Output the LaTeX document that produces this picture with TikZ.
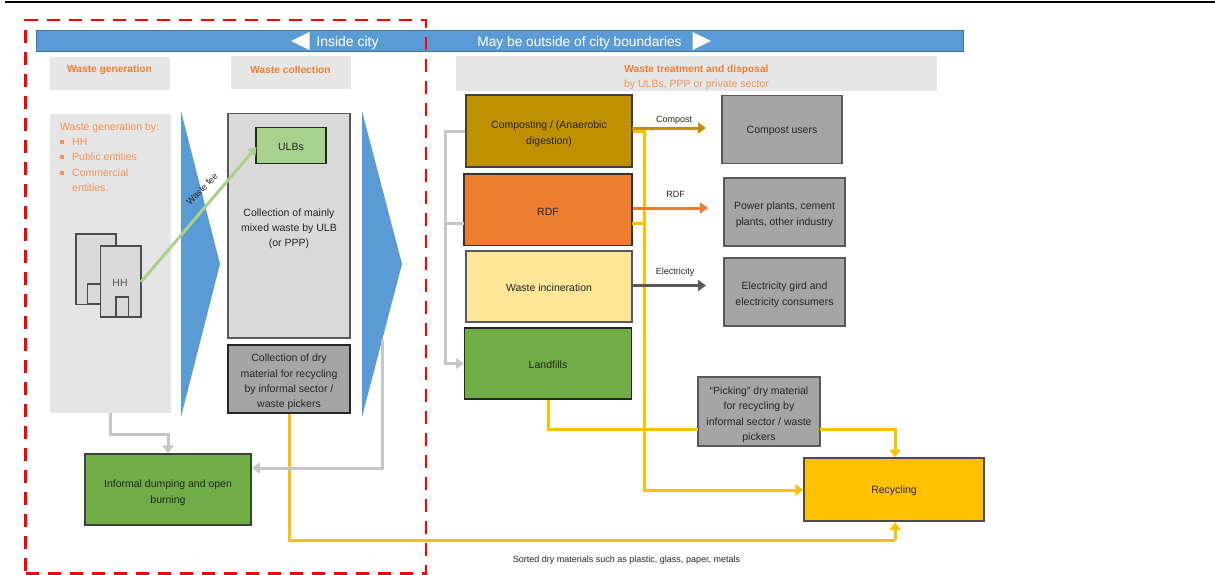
\documentclass[tikz,border=0pt]{standalone}
\usepackage{fontspec}
\setmainfont{Liberation Sans}
\usetikzlibrary{arrows.meta}
\definecolor{bannerblue}{HTML}{5B9BD5}
\definecolor{bannerline}{HTML}{41719C}
\definecolor{hdrgrey}{HTML}{E7E6E6}
\definecolor{panelgrey}{HTML}{E5E5E5}
\definecolor{lightgrey}{HTML}{D9D9D9}
\definecolor{midgrey}{HTML}{A5A5A5}
\definecolor{wasteorange}{HTML}{ED7D31}
\definecolor{softorange}{HTML}{F0935A}
\definecolor{compbrown}{HTML}{BF9000}
\definecolor{paleyellow}{HTML}{FFE699}
\definecolor{leaf}{HTML}{70AD47}
\definecolor{softleaf}{HTML}{A9D18E}
\definecolor{gold}{HTML}{FFC000}
\definecolor{linegrey}{HTML}{C6C6C6}
\definecolor{darkline}{HTML}{595959}
\definecolor{txt}{HTML}{262626}
\newcommand{\uppad}{\rule{0pt}{13pt}}
\newcommand{\uponce}{\rule{0pt}{10.5pt}}
\tikzset{
  x=1pt,y=-1pt,
  txtsize/.style={font=\fontsize{10.5}{15.3}\selectfont},
  boxed/.style={draw=#1,line width=1.3pt,inner sep=1pt,align=center,text=txt,txtsize},
  boxed/.default={black!75},
  hdr/.style={fill=hdrgrey,draw=none,inner sep=0pt,align=center},
  hdrtext/.style={text=wasteorange,font=\fontsize{10.2}{15.3}\selectfont\bfseries,inner sep=0pt},
  flowtext/.style={text=txt,txtsize,inner sep=0pt},
  prodlabel/.style={text=txt,font=\fontsize{9}{12}\selectfont,inner sep=0pt},
  conn/.style={line width=3pt,#1,-{Triangle[length=8pt,width=11pt]}},
  plain/.style={line width=3pt,#1},
  bldg/.style={draw=black!70,line width=1.4pt,fill=lightgrey,inner sep=0pt},
  sz/.style 2 args={minimum width=#1,minimum height=#2},
}
\begin{document}
\begin{tikzpicture}
\useasboundingbox (0,0) rectangle (1215,574);
\coordinate (ruleL) at (5,2);
\coordinate (ruleR) at (1215,2);
\draw[line width=2pt,black] (ruleL) -- (ruleR);

% banner
\node[fill=bannerblue,draw=bannerline,line width=1pt,inner sep=0pt,sz={927pt}{21pt}] (banner) at (499.5,41) {};
\fill[white] (291,41) -- (309.5,32) -- (309.5,50) -- cycle;
\fill[white] (711,41) -- (692.5,32) -- (692.5,50) -- cycle;
\node[text=white,font=\fontsize{14}{16}\selectfont,inner sep=0pt] (inside) at (347.5,42.5) {Inside city};
\node[text=white,font=\fontsize{13.7}{16}\selectfont,inner sep=0pt] (outside) at (579.5,42.5) {May be outside of city boundaries};

% headers
\node[hdr,sz={120pt}{33pt}] (h1) at (110,73.5) {};
\node[hdrtext] (h1t) at (109.5,70) {Waste generation};
\node[hdr,sz={120pt}{33pt}] (h2) at (291,72.5) {};
\node[hdrtext] (h2t) at (290.5,69.5) {Waste collection};
\node[hdr,sz={481pt}{35pt}] (h3) at (696.5,73.5) {};
\node[hdrtext] (h3t) at (696.5,70) {Waste treatment and disposal};
\node[text=softorange,txtsize,inner sep=0pt] (h3s) at (696.5,85) {by ULBs, PPP or private sector};

% panel
\node[fill=panelgrey,draw=none,inner sep=0pt,sz={121pt}{299pt}] (panel) at (110.5,263.5) {};
\newcommand{\blt}{\makebox[12pt][l]{\rule[1.5pt]{4pt}{4pt}}}
\node[text=softorange,txtsize,inner sep=0pt,align=left,anchor=north west] (paneltext) at (60,122.5)
 {\hspace*{0pt}Waste generation by:\\ \blt HH\\ \blt Public entities\\ \blt Commercial\\ \hspace*{12pt}entities.};

% triangles
\fill[bannerblue] (181,111) -- (220,264) -- (181,417) -- cycle;
\fill[bannerblue] (362,111) -- (402,264) -- (362,417) -- cycle;

% collection
\node[boxed={darkline},fill=lightgrey,sz={122pt}{224.5pt}] (coll) at (289,225.75) {};
\node[flowtext,align=center] (colltext) at (289,228.7) {Collection of mainly\\mixed waste by ULB\\(or PPP)};
\node[boxed={black!85},fill=softleaf,sz={70pt}{36pt}] (ulbs) at (291,145.5) {\uponce ULBs};
\node[boxed={black!85},fill=midgrey,sz={122pt}{68pt}] (dry) at (289,379) {\rule{0pt}{14pt}Collection of dry\\material for recycling\\by informal sector /\\waste pickers};

% buildings
\node[bldg,sz={40pt}{70.5pt}] (b1) at (96,269.25) {};
\node[bldg,sz={12.5pt}{20pt}] (b1d) at (94,294) {};
\node[bldg,sz={40.5pt}{71pt}] (hh) at (120.75,281.5) {};
\node[bldg,sz={12.5pt}{19.5pt}] (hhd) at (122.25,306.75) {};
\node[text=darkline,txtsize,inner sep=0pt] (hhl) at (120,283) {HH};

% treatment
\node[boxed={black!75},fill=compbrown,sz={166pt}{72pt}] (comp) at (549,131) {\uppad Composting / (Anaerobic\\digestion)};
\node[boxed={black!80},fill=wasteorange,sz={168pt}{71.5pt}] (rdf) at (548,209.75) {\uponce RDF};
\node[boxed={black!65},fill=paleyellow,sz={166pt}{71pt}] (inc) at (549,286.5) {\uponce Waste incineration};
\node[boxed={black!85},fill=leaf,sz={167pt}{71pt}] (land) at (548,363.5) {\uponce Landfills};

\node[boxed={darkline},fill=midgrey,sz={120pt}{68pt}] (cu) at (782,129.5) {\uponce Compost users};
\node[boxed={darkline},fill=midgrey,sz={121pt}{68pt}] (pp) at (784.5,212) {\uppad Power plants, cement\\plants, other industry};
\node[boxed={darkline},fill=midgrey,sz={121pt}{68pt}] (el) at (784.5,292) {\uppad Electricity gird and\\electricity consumers};
\node[boxed={darkline},fill=midgrey,sz={122pt}{69pt}] (pick) at (759,411.5) {\rule{0pt}{14pt}“Picking” dry material\\for recycling by\\informal sector / waste\\pickers};
\node[boxed={black!70},fill=gold,sz={180pt}{63pt}] (rec) at (894,489.5) {\uponce Recycling};
\node[boxed={black!75},fill=leaf,sz={166pt}{71pt}] (dump) at (168,489.5) {\rule{0pt}{14pt}Informal dumping and open\\burning};

% junction coordinates
\coordinate (panelOut) at (110,413);
\coordinate (pJ1) at (110,434);
\coordinate (pJ2) at (168,434);
\coordinate (triOut) at (382,340);
\coordinate (tJ) at (382,468);
\coordinate (dumpIn) at (252,468);
\coordinate (dryJ) at (289,540);
\coordinate (recJ) at (895,540);
\coordinate (recIn) at (895,522);
\coordinate (gJ) at (445,131);
\coordinate (gJ2) at (445,223);
\coordinate (gJ3) at (445,363.5);
\coordinate (rdfL) at (464,223);
\coordinate (yJ1) at (644,131);
\coordinate (yJ2) at (644,223);
\coordinate (rdfR) at (632,223);
\coordinate (yJ3) at (644,490);
\coordinate (lJ1) at (548,429);
\coordinate (pickL) at (698,429);
\coordinate (pickR) at (820,429);
\coordinate (pJ3) at (895,429);
\coordinate (recTop) at (895,457.5);
\coordinate (compS) at (632,128);
\coordinate (compE) at (706,128);
\coordinate (rdfS) at (633,208);
\coordinate (rdfE) at (708,208);
\coordinate (incS) at (632,285.5);
\coordinate (incE) at (706,285.5);
\coordinate (hhOut) at (141,282);
\coordinate (ulbIn) at (256.5,147);

% yellow connectors
\draw[plain=gold] (dry.south) -- (dryJ) -- (recJ);
\draw[conn=gold] (recJ) -- (recIn);
\draw[conn=gold] (comp.east) -- (yJ1) -- (yJ3) -- (rec.west |- yJ3);
\draw[plain=gold] (rdfR) -- (yJ2);
\draw[plain=gold] (land.south) -- (lJ1) -- (pickL);
\draw[conn=gold] (pickR) -- (pJ3) -- (recTop);

% grey connectors
\draw[conn=linegrey] (panelOut) -- (pJ1) -- (pJ2) -- (dump.north);
\draw[conn=linegrey] (triOut) -- (tJ) -- (dumpIn);
\draw[conn=linegrey] (comp.west) -- (gJ) -- (gJ3) -- (land.west);
\draw[plain=linegrey] (rdfL) -- (gJ2);

% products
\draw[conn=compbrown] (compS) -- (compE);
\draw[conn=wasteorange] (rdfS) -- (rdfE);
\draw[conn=darkline] (incS) -- (incE);
\node[prodlabel] (l1) at (674,120) {Compost};
\node[prodlabel] (l2) at (675.5,194.5) {RDF};
\node[prodlabel] (l3) at (675,272) {Electricity};

% waste fee
\draw[line width=3pt,softleaf,-{Triangle[length=8pt,width=10pt]}] (hhOut) -- (ulbIn);
\node[prodlabel,rotate=45] (fee) at (202,189) {Waste fee};

\node[prodlabel] (sorted) at (626.5,560) {Sorted dry materials such as plastic, glass, paper, metals};

% city frame
\node[draw={rgb,255:red,255;green,0;blue,0},line width=2.8pt,dash pattern=on 13pt off 9pt,inner sep=0pt,sz={400.5pt}{553.5pt}] (frame) at (225.75,296.75) {};
\end{tikzpicture}
\end{document}
